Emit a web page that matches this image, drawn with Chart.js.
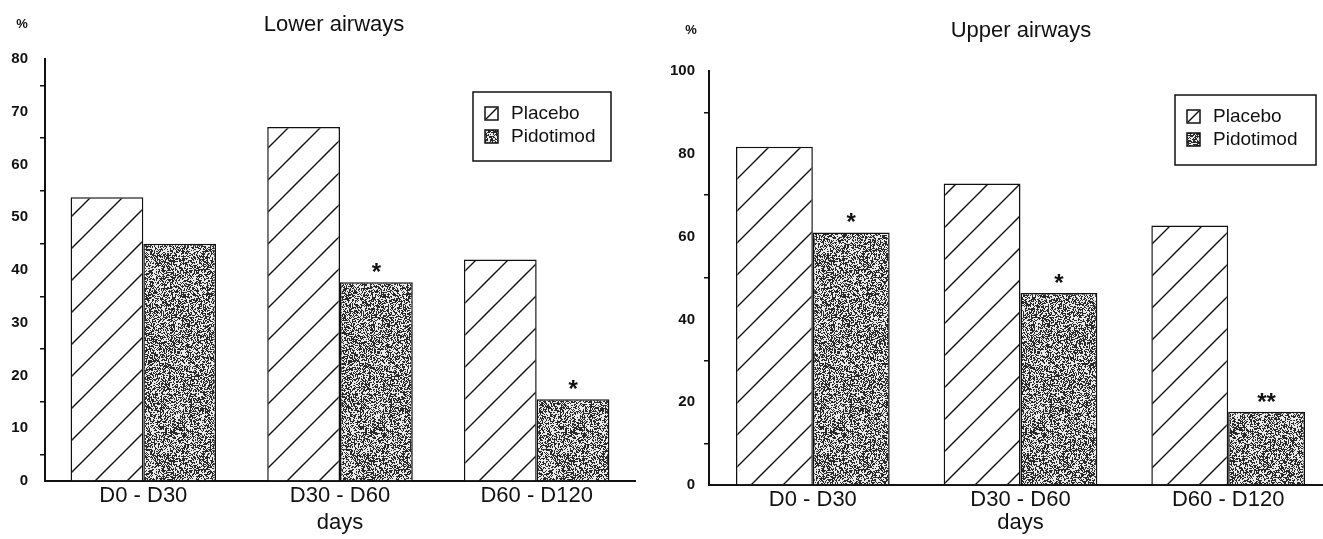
<!DOCTYPE html>
<html>
<head>
<meta charset="utf-8">
<script src="https://cdn.jsdelivr.net/npm/chart.js@4.4.1/dist/chart.umd.min.js"></script>
<style>
body{margin:0;overflow:hidden;background:#fff}
.box{position:absolute;top:0;height:539px}
</style>
</head>
<body>
<div class="box" style="left:0;width:660px"><canvas id="lowerChart"></canvas></div>
<div class="box" style="left:660px;width:672px"><canvas id="upperChart"></canvas></div>
<script>
const categories = ['D0 - D30', 'D30 - D60', 'D60 - D120'];
const seriesNames = ['Placebo', 'Pidotimod'];
const lowerPlacebo = [53.8, 67.1, 42.0];
const lowerPidotimod = [45.0, 37.7, 15.5];
const upperPlacebo = [81.7, 72.8, 62.7];
const upperPidotimod = [61.0, 46.4, 17.7];
const lowerStars = ['', '*', '*'];
const upperStars = ['*', '*', '**'];
const lowerMax = 80, lowerStep = 10;
const upperMax = 100, upperStep = 20;

const FONT = '"Liberation Sans", Arial, Helvetica, sans-serif';

document.addEventListener('DOMContentLoaded', ()=>{
// fills
const hatchCanvas = document.createElement('canvas');
hatchCanvas.width = hatchCanvas.height = 32;
let g = hatchCanvas.getContext('2d');
g.fillStyle = '#fff'; g.fillRect(0,0,32,32);
g.strokeStyle = '#111'; g.lineWidth = 1.4;
g.beginPath();
g.moveTo(-1,33); g.lineTo(33,-1);
g.moveTo(-1,1); g.lineTo(1,-1);
g.moveTo(31,33); g.lineTo(33,31);
g.stroke();

const N = 200;
const noiseCanvas = document.createElement('canvas');
noiseCanvas.width = noiseCanvas.height = N;
g = noiseCanvas.getContext('2d');
const img = g.createImageData(N,N);
let seed = 7;
const rnd = ()=>{ seed = (Math.imul(seed,1664525) + 1013904223) >>> 0; return seed/4294967296; };
for(let i=0;i<N*N;i++){
const v = rnd() < 0.5 ? 40 : 235;
img.data[i*4] = img.data[i*4+1] = img.data[i*4+2] = v;
img.data[i*4+3] = 255;
}
g.putImageData(img,0,0);

const ctx0 = document.createElement('canvas').getContext('2d');
const hatch = ctx0.createPattern(hatchCanvas,'repeat');
const noise = ctx0.createPattern(noiseCanvas,'repeat');

// titles, stars, legend box
const decor = {
id:'decor',
afterDraw(chart, args, o){
const ctx = chart.ctx;
ctx.save();
ctx.fillStyle = '#111';
ctx.textAlign = 'center';
ctx.textBaseline = 'alphabetic';
ctx.font = '22px '+FONT;
ctx.fillText(o.title, o.titleX, o.titleY);
ctx.font = 'bold 13px '+FONT;
ctx.fillText('%', o.pctX, o.pctY);

ctx.font = 'bold 24px '+FONT;
chart.getDatasetMeta(1).data.forEach((bar,i)=>{
if(o.stars[i]) ctx.fillText(o.stars[i], bar.x, bar.y - 2);
});

const L = o.legend;
ctx.strokeStyle = '#111'; ctx.lineWidth = 1.5;
ctx.strokeRect(L.x, L.y, L.w, L.h);
ctx.textAlign = 'left'; ctx.textBaseline = 'middle';
ctx.font = '19px '+FONT;
[hatch, noise].forEach((fill,i)=>{
const sy = L.y + 15 + i*23;
ctx.fillStyle = i ? noise : '#fff';
ctx.fillRect(L.x+12, sy, 13, 13);
ctx.strokeRect(L.x+12, sy, 13, 13);
if(!i){ ctx.beginPath(); ctx.moveTo(L.x+13, sy+12); ctx.lineTo(L.x+24, sy+1); ctx.stroke(); }
ctx.fillStyle = '#111';
ctx.fillText(seriesNames[i], L.x+38, sy+7);
});
ctx.restore();
}
};

const makeChart = (id, placebo, pidotimod, max, step, cfg)=>{
new Chart(document.getElementById(id), {
type:'bar',
data:{labels:categories, datasets:[
{label:seriesNames[0], data:placebo, backgroundColor:hatch, borderColor:'#111', borderWidth:1.5, categoryPercentage:0.74, barPercentage:1},
{label:seriesNames[1], data:pidotimod, backgroundColor:noise, borderColor:'#111', borderWidth:1.5, categoryPercentage:0.74, barPercentage:1}
]},
options:{
responsive:true, maintainAspectRatio:false, animation:false,
layout:{padding:{top:cfg.top, right:cfg.right, left:0, bottom:0}},
plugins:{legend:{display:false}, tooltip:{enabled:false}, decor:cfg.decor},
scales:{
x:{
grid:{display:false, drawTicks:false},
border:{display:true, color:'#111', width:2},
ticks:{color:'#111', font:{family:FONT, size:22}, padding:2},
title:{display:true, text:'days', color:'#111', font:{family:FONT, size:22}, padding:{top:0, bottom:3}},
afterFit:s=>{ s.height = cfg.xHeight; }
},
y:{
min:0, max:max,
grid:{drawOnChartArea:false, drawTicks:true, tickLength:5, lineWidth:1.5,
color:c=> (c.tick && c.tick.value % step) ? '#111' : 'rgba(0,0,0,0)'},
border:{display:true, color:'#111', width:2},
ticks:{stepSize:step/2, autoSkip:false, color:'#111', padding:cfg.tickPad,
font:{family:FONT, size:15, weight:'bold'},
callback:v=> v % step === 0 ? v : ''},
afterFit:s=>{ s.width = cfg.yWidth; }
}
}
},
plugins:[decor]
});
};

makeChart('lowerChart', lowerPlacebo, lowerPidotimod, lowerMax, lowerStep, {
top:59, right:25, xHeight:58, yWidth:45, tickPad:12,
decor:{title:'Lower airways', titleX:334, titleY:31, pctX:22, pctY:28, stars:lowerStars,
legend:{x:473, y:92, w:138, h:69}}
});

makeChart('upperChart', upperPlacebo, upperPidotimod, upperMax, upperStep, {
top:71, right:0, xHeight:54, yWidth:49, tickPad:9,
decor:{title:'Upper airways', titleX:361, titleY:37, pctX:31, pctY:34, stars:upperStars,
legend:{x:515, y:95, w:141, h:70}}
});
});
</script>
</body>
</html>
